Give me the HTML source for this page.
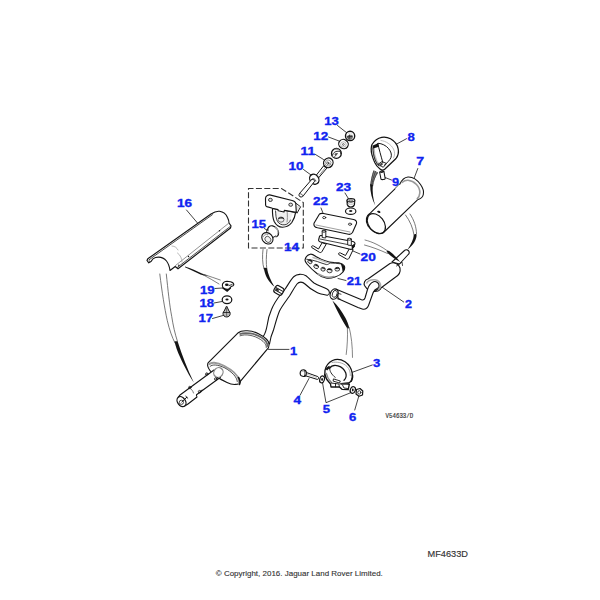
<!DOCTYPE html>
<html><head><meta charset="utf-8">
<style>
html,body{margin:0;padding:0;background:#fff;width:600px;height:600px;overflow:hidden}
svg{position:absolute;left:0;top:0}
.l{font-family:"Liberation Sans",sans-serif;font-weight:bold;font-size:11.6px;fill:#1024f0;stroke:#1024f0;stroke-width:0.35}
.k{fill:none;stroke:#141414;stroke-width:1.1;stroke-linecap:round;stroke-linejoin:round}
.kt{fill:none;stroke:#141414;stroke-width:0.8;stroke-linecap:round;stroke-linejoin:round}
.g{fill:none;stroke:#777;stroke-width:0.7;stroke-linecap:round}
.w{fill:#fff;stroke:#141414;stroke-width:1.1;stroke-linejoin:round;stroke-linecap:round}
.f{fill:#141414;stroke:none}
.d{fill:none;stroke:#333;stroke-width:1.1;stroke-dasharray:4.5 2.5}
.ft{font-family:"Liberation Sans",sans-serif;fill:#333}
</style></head><body>
<svg width="600" height="600" viewBox="0 0 600 600">
<!-- ===== main pipe (part of 1) ===== -->
<g id="pipe1">
 <path class="w" d="M262.5,342 L263.5,336 C265.5,333 266.5,329 267.2,325 C268,319 269.5,314 271.5,309.5 C273.5,304.5 277,299 281,294 C283,291.5 284.5,290 285,289.25 C288,285 291,279 294,276.5 C297,274 302,273.5 306,275.75 C309,278 311,281 314,283 C318,285.5 323,287 327,289 C330,290.5 330.3,294.5 327.5,295.3 C323,294.5 320,294 317,292.5 C312,290 308,287 305,284 C302.5,281.5 299,281.5 297,284 C294,288 292,292 289.5,296 C286,301 282,306 279.5,311 C277,317 275,325 273.5,330 C272.5,333 271.5,335 271,337 L269.5,344 Z"/>
 <!-- hanger on pipe -->
 <g transform="rotate(30 278.8 290.3)">
  <rect class="w" x="274.3" y="286.3" width="9.2" height="8" rx="2.6" style="stroke-width:1.15"/>
  <path class="kt" d="M275.3,289.2 L282.8,289.2 M275.6,291.8 L282.8,291.8" style="stroke-width:0.9"/>
  <path class="f" d="M275.2,289.7 L278.8,289.7 L278.8,291.3 L275.2,291.3 Z" style="fill:#222"/>
 </g>
 </g>
<!-- ===== Muffler 1 ===== -->
<g id="m1">
 <!-- body fill -->
 <path class="w" d="M238.3,332.7 C242,329.5 252,330.5 258,333.5 C264,336.5 269.5,341 269,345 C268.8,347 268,348.5 267.7,348.7 L240.3,381.3 C239.5,385 233,385.5 227,382.5 C218,378.5 209,372 207.7,366 C207.5,364 208,363 208.3,362.7 Z" style="stroke-width:1.15"/>
 <path d="M239.5,334.3 C245,331.8 255,333.5 261.5,337.5 C265.5,340 267.8,343.5 267.5,346.8" style="fill:none;stroke:#666;stroke-width:1.8"/>
 <path class="kt" d="M240,335.8 C245.5,333.5 254.5,335.5 260.5,339.5 C264.5,342 266.5,345 266.3,347.5" style="stroke-width:0.7"/>
 <path d="M208.8,364.8 C210.5,361.8 216.5,362 224,365.8 C232,370 238,375.5 239,380 C239.3,382 238.8,383.3 238.3,384" style="fill:none;stroke:#999;stroke-width:1.8"/>
 <path class="kt" d="M210,366.5 C212,364 218,364.5 225,368 C232,372 237,377 237.3,381.5" style="stroke-width:0.75"/>
 <path class="kt" d="M238.5,377.5 C240,380 240.5,382.5 239.5,384.5" style="stroke-width:1.6"/>
 <!-- tail pipe -->
 <path class="w" d="M214,370 L180,395 C177,397.5 177,403 180,405.5 C183,407 186,405.5 188,404 L197,397 C196.5,396 196.3,395.3 196.5,394.8 L220.5,377.2 Z"/>
 <path class="kt" d="M189.5,388 C191.5,389 193,391 193.5,393" style="stroke:#555;stroke-width:0.8"/>
 <ellipse class="w" cx="181.5" cy="401.6" rx="5.4" ry="3.9" transform="rotate(54 181.5 401.6)" style="stroke-width:1.3"/>
 <circle cx="181.4" cy="402.3" r="2.1" style="fill:none;stroke:#222;stroke-width:0.8"/>
 <path class="kt" d="M181.8,402 L186.8,397.2 M185.8,396.3 L187.8,398.2" style="stroke-width:1"/>
 <ellipse cx="218.4" cy="372.5" rx="4.5" ry="5" transform="rotate(35 218.4 372.5)" style="fill:#fff;stroke:#888;stroke-width:1.3"/>
 <path class="kt" d="M190,387 l-1.5,1.5 M207,373.5 l-1.5,1.5 M200,391.5 l2,-1.5 M215.8,379 l2,-1.5"/>
 <circle class="kt" cx="189.8" cy="387.5" r="1.2"/>
 <circle class="kt" cx="206.8" cy="374" r="1.2"/>
 <circle class="kt" cx="199.6" cy="391.7" r="1.3"/>
 <circle class="kt" cx="215.8" cy="379" r="1.3"/>
 </g>
<!-- ===== intermediate pipe + muffler 2 ===== -->
<g id="m2">
 <!-- muffler body -->
 <path class="w" d="M368.3,278.7 L390,263.5 C394,261.5 399,264 400,268 C400.8,272 398.5,275.5 395,277.5 L381.2,287.8 C380.5,289.5 378.5,291 376.3,291.3 C372,292 366.5,289.5 364.5,285.5 C363.5,283 364.5,280 368.3,278.7 Z"/>
 <path d="M366.5,283.5 C368,280.5 371.5,279.5 375,279.8 C378.5,280.3 381,283 380.5,286.5 C380,288.5 378.5,289.8 376.5,290.2" style="fill:none;stroke:#aaa;stroke-width:1.6"/>
 <!-- intermediate pipe -->
 <path class="w" d="M336.3,289.3 L361.5,299.8 C363,300.3 364.5,299.5 365,298 L367.5,289.5 C368.5,286 370.5,283 373.5,281.8 C376,281 378.5,282.5 379,285 C379.3,286.5 378.5,287.8 377.5,288.3 C375.5,289 374,290.5 373.2,292.5 L368.5,305.5 C367.5,308 365.5,309.5 363,309.2 C361,309 359.5,308 358,307.5 L338.3,298.7 Z"/>
 <path class="f" d="M373.5,292.5 C375,290 377,288.5 378.8,288.2 L377,290.5 Z"/>
 <ellipse class="w" cx="334.2" cy="294.1" rx="3.9" ry="5.3" transform="rotate(20 334.2 294.1)" style="stroke-width:1.2"/>
 <ellipse class="kt" cx="334.8" cy="293.9" rx="2.4" ry="3.6" transform="rotate(20 334.8 293.9)"/>
 <path class="kt" d="M338.5,293.5 L341,294.2 M337.5,298.8 L340,299"/>
 <!-- outlet -->
 <path class="w" d="M392,262 L404.5,250.5 C406,249 408.5,250 409,251.5 C409.5,253 409,254 408.2,254.5 L399.5,264 Z"/>
 <path class="kt" d="M396.5,266 L402,262 L402.5,265.5"/>
</g>
<!-- ===== label leader lines ===== -->
<g class="kt" style="stroke:#222;stroke-width:0.85">
 <path d="M337.5,125.5 L347,133"/>
 <path d="M328.5,137 L339,141"/>
 <path d="M315.5,154.5 L323.5,159.5"/>
 <path d="M303.5,169.5 L311,175"/>
 <path d="M396.7,144 L406.5,138.7"/>
 <path d="M417.8,168.5 L414,178.5"/>
 <path d="M385,177.5 L391.5,180"/>
 <path d="M345,193 L349,199.5"/>
 <path d="M321,208 L323,213"/>
 <path d="M186.5,210 L197.5,223"/>
 <path d="M350.7,250 L360,254"/>
 <path d="M338,278.5 L346,280.5"/>
 <path d="M215,288.5 L222.5,288"/>
 <path d="M214,303 L222,301.5"/>
 <path d="M212.5,318.5 L223,315.5"/>
 <path d="M382.3,287.3 L403.7,302"/>
 <path d="M268.5,349.4 L289,349.4"/>
 <path d="M351.7,372.5 L372.3,365"/>
 <path d="M300,395.3 L309,378.5"/>
 <path d="M322.3,381.5 L326,402.7 L350.5,392.8"/>
 <path d="M354.75,410 L359,395.5"/>
</g>
<!-- ===== muffler 7 ===== -->
<g id="m7">
 <path class="w" d="M370.5,212.9 L399.8,184.2 C401.5,180.5 404.5,177.3 408,177 C412,176.8 417,179.5 420.5,184.5 C423,188 424,191.5 423.3,194.5 C422.8,197 421,198.8 417.5,199.8 L383.3,232.75 C379,235 372,232 368,226 C365,221 366,215.5 370.5,212.9 Z"/>
 <ellipse class="k" cx="376.3" cy="223.6" rx="11.2" ry="7.6" transform="rotate(52 376.3 223.6)" style="stroke-width:1.2"/>
 <path class="g" d="M402,182.5 C404,180.8 406,180.2 408,180.3 C411,180.5 414,182 416.5,184.5 C418.8,187 420,190 419.8,193 C419.6,195.5 418.8,197.3 417.3,198.7" style="stroke:#999;stroke-width:1.6"/>
 <ellipse class="f" cx="378.8" cy="211.8" rx="1.7" ry="1" transform="rotate(20 378.8 211.8)"/>
 <path d="M395.8,189.3 L400,185.2" style="stroke:#fff;stroke-width:1.8"/>
</g>
<!-- ===== clamp 8 + stud 9 ===== -->
<g id="c8">
 <path class="w" d="M372,144.5 C374.5,140.5 377.5,138.2 381.7,137.4 C385,136.8 388,137.5 390.5,138.8 C394.5,141 397.5,145 398.2,149 C398.8,152 398.6,155 396,158.5 L384.7,169.3 C383.5,170.3 381.8,170.3 380.3,169.2 C378,167.5 376,165.5 374.8,162.5 C372.8,158 371,153 371.2,148.7 C371.3,147 371.5,145.5 372,144.5 Z" style="stroke-width:1.25"/>
 <path class="g" d="M373.5,148.5 C373.5,153 374.5,158 376.5,162 C377.5,163.5 379,164.8 380.5,165.5" style="stroke:#bbb;stroke-width:2.5"/>
 <path class="kt" d="M378.3,143.3 C382,143.5 386,145.5 388.5,148.5 C391,151.5 392,154.5 391,157.5 C390,160 387,163 384.2,165.3" style="stroke-width:1"/>
 <path class="g" d="M381,140.5 C386,141 391,144.5 393.5,149 C395,152 395,155.5 393.5,158" style="stroke:#aaa;stroke-width:0.8"/>
 <path class="kt" d="M377.8,143.5 C379,149 381,156 382.9,162.8" style="stroke-width:1"/>
 <path class="kt" d="M372.9,147.8 C373,152 373.8,156 375,159.5 C376,162 377,163.8 378.5,165.5" style="stroke-width:0.9"/>
 <path d="M372.3,145.8 L378,143.2 L378.8,146.8 L373.2,148.5 Z" class="f"/>
 <path class="kt" d="M378.5,164 L382,161.5 L386.5,163.5 L383.5,167 Z" style="stroke-width:0.9"/>
 <path class="f" d="M379.5,164 L382,162.5 L383,164.5 L381,165.5 Z" style="fill:#444"/>
 <path class="w" d="M379.6,172 L383.9,171.4 L385.2,178.6 C385,179.6 381.6,180 381,179.1 Z" style="stroke-width:1.05"/>
 <ellipse class="kt" cx="381.9" cy="171.6" rx="1.7" ry="0.9" transform="rotate(-10 381.9 171.6)"/>
</g>
<!-- ===== bolt 10, washers 11/12, grommet, nut 13 ===== -->
<g id="b10">
 <!-- upper shaft -->
 <path class="w" d="M316.3,175.2 L323.5,166 L326.8,168.2 L318.6,177.8 Z" style="stroke-width:1"/>
 <path class="kt" d="M319.5,175 L325.5,167.5" style="stroke:#777"/>
 <!-- collar -->
 <ellipse class="w" cx="314.3" cy="179.2" rx="5.3" ry="4.3" transform="rotate(55 314.3 179.2)" style="stroke-width:1.35"/>
 <!-- lower shaft -->
 <path class="w" d="M310.5,180.7 C311.5,178.8 313.8,178.8 314.7,181.2 L303.3,195.8 C302.8,196.5 302.2,197 301.2,197 C299.2,197.2 298.3,195.2 299.3,193.8 Z" style="stroke-width:1"/>
 <path class="kt" d="M311.3,179.8 C312.5,178 315.5,178.5 315.8,181" style="stroke-width:0.9"/>
 <path class="kt" d="M299.8,193.5 C300.8,193.6 302.8,195 303.2,195.8"/>
</g>
<g id="w11">
 <ellipse class="w" cx="328.3" cy="162.8" rx="4.6" ry="4.9" transform="rotate(40 328.3 162.8)" style="stroke-width:1.3"/>
 <ellipse class="g" cx="328" cy="163" rx="2.8" ry="3.1" transform="rotate(40 328 163)"/>
 <ellipse class="kt" cx="327.8" cy="163.2" rx="1.1" ry="1.2" style="stroke-width:0.7"/>
</g>
<g id="gr">
 <circle class="w" cx="336.4" cy="153.4" r="4.9" style="stroke-width:1.3"/>
 <path class="kt" d="M332.3,155.5 C333,152.5 336,150.5 339.5,151.5 C340.5,152 341,152.8 340.8,153.8" style="stroke-width:0.9"/>
 <path d="M332.5,156 C333.2,154 335.5,152.5 338,153 C337,155.5 335,157.3 332.8,157.3 Z" style="fill:#555"/>
 <ellipse cx="333.9" cy="155.6" rx="1.5" ry="0.9" transform="rotate(-40 333.9 155.6)" style="fill:#fff"/>
 <path d="M334.5,149.5 C336.5,148.5 339,149.3 339.5,150.8" style="fill:none;stroke:#999;stroke-width:1"/>
</g>
<g id="w12">
 <ellipse class="w" cx="343.5" cy="144.1" rx="4.9" ry="4.5" transform="rotate(35 343.5 144.1)" style="stroke-width:1.25"/>
 <ellipse cx="343.4" cy="144.4" rx="2.8" ry="2.6" style="fill:none;stroke:#999;stroke-width:0.7"/>
 <circle cx="343.4" cy="144.5" r="0.9" style="fill:none;stroke:#333;stroke-width:0.7"/>
</g>
<g id="n13">
 <ellipse class="w" cx="350.1" cy="135.9" rx="4.6" ry="4.6" style="stroke-width:1.4"/>
 <path d="M346.5,137 C347.5,135 350,134.3 352.5,135.2 C353.3,136.5 353,138.5 351.5,139.5 C349.5,140.2 347.2,139.2 346.5,137 Z" style="fill:#777"/>
 <path class="kt" d="M347.5,136.8 L352,136.5 M349.5,135 L349,139.5" style="stroke:#222;stroke-width:0.8"/>
 <path d="M348,133.5 C349.5,132.5 351.5,132.8 352.5,134" style="fill:none;stroke:#ccc;stroke-width:0.8"/>
</g>
<!-- ===== nut 23 + washer ===== -->
<g id="n23">
 <ellipse class="w" cx="350.7" cy="211.2" rx="5.2" ry="3.2" style="stroke-width:1.15"/>
 <ellipse cx="350.7" cy="211" rx="1.7" ry="1" style="fill:#222"/>
 <path class="w" d="M347,200.5 L347.2,204.5 C347.8,206.3 349.3,207 350.8,207 C352.5,207 354,206.2 354.5,204.5 L354.8,200.5 Z" style="stroke-width:1.1"/>
 <ellipse class="w" cx="350.9" cy="200.3" rx="3.9" ry="1.7" style="stroke-width:1.05"/>
 <ellipse cx="350.8" cy="201" rx="2.3" ry="0.9" style="fill:none;stroke:#444;stroke-width:0.8"/>
 <path d="M347.5,203.5 C349,204.5 352.5,204.5 354,203.5" style="fill:none;stroke:#999;stroke-width:0.7"/>
 <path d="M347.3,201.5 L347.8,203.5" style="stroke:#111;stroke-width:1"/>
</g>
<!-- ===== dashed box 14 ===== -->
<path class="d" d="M248.5,188.5 L281.5,188.5 L303.3,202.5 L303.3,248 L248.5,248 Z" style="stroke-dasharray:6 2.4;stroke-dashoffset:1"/>
<!-- ===== bracket 14 ===== -->
<g id="br14">
 <path class="w" d="M272.5,208.5 C272.3,213 272.8,218 274.2,221.5 C276,225 279,227.2 282.5,227.2 C286,227.2 289.5,225.5 291.8,222.5 C293.8,219.5 295.2,216 295.6,212.4 Z" style="stroke-width:1.15"/>
 <path d="M276.5,212 C276.5,216 277.5,220.5 280,223 C283,225.5 287,224.5 289.5,221 C291,218.5 292,215.5 292.5,213" style="fill:#f0f0f0;stroke:none"/>
 <path class="kt" d="M275.6,211 C275.8,215 276,219 277.5,221.5 C279,224 282,225.2 285,224.8 C287.5,224.3 289.5,222.5 290.5,220" style="stroke-width:0.85"/>
 <path class="kt" d="M287.2,212.4 C287.5,216 287.5,219.5 287,222" style="stroke:#777;stroke-width:0.8"/>
 <path class="w" d="M265.5,198.4 C265.5,196.5 267.5,194.8 269.7,194.9 L292.1,200.5 C294,201 295.5,202 295.8,203.5 L296.3,212.4 L284.4,210.3 L284,212 L278.2,210.8 L278,209.6 L272.5,208.2 L266.8,206.6 C266,206.3 265.6,205.8 265.6,205 Z" style="stroke-width:1.15"/>
 <path class="kt" d="M296.3,203.5 L300.6,206.8 L297,213.2 L296.3,212.4" style="stroke-width:0.95"/>
 <path d="M297.2,205.5 L299.5,207 L297.3,211" style="fill:#ddd;stroke:none"/>
 <ellipse cx="270.4" cy="199.9" rx="1.9" ry="1.6" style="fill:#ddd;stroke:#222;stroke-width:0.9"/>
 <ellipse cx="290.7" cy="204.7" rx="1.9" ry="1.6" style="fill:#ddd;stroke:#222;stroke-width:0.9"/>
 <ellipse cx="281" cy="219.6" rx="3" ry="2.6" style="fill:#eee;stroke:#333;stroke-width:0.7"/>
 <path class="f" d="M278,219.5 C278.5,216.8 283.5,216.5 284.2,219.3 C283,218.2 279.5,218.2 278,219.5 Z"/>
</g>
<!-- ===== bushing 15 ===== -->
<g id="bu15">
 <ellipse class="w" cx="273.2" cy="231.4" rx="6.3" ry="4.6" transform="rotate(48 273.2 231.4)" style="stroke-width:1.15"/>
 <path class="g" d="M275,227.5 C277.5,229 278.5,232 277.5,234.5" style="stroke:#aaa;stroke-width:1.2"/>
 <path d="M267.5,230.5 L276.5,236.5 L272,242 L263,235.5 Z" style="fill:#fff;stroke:none"/>
 <path class="kt" d="M267.3,229 C266.8,230.5 266.5,232 266.5,233 M275.8,236 C274.5,236.8 273.5,237.2 272.8,237.5" style="stroke-width:1"/>
 <ellipse class="w" cx="267.4" cy="238.3" rx="6.2" ry="5.1" transform="rotate(48 267.4 238.3)" style="stroke-width:1.15"/>
 <ellipse cx="267.9" cy="239.4" rx="3.3" ry="2.7" transform="rotate(48 267.9 239.4)" style="fill:#f2f2f2;stroke:#444;stroke-width:0.8"/>
 <path class="g" d="M263,237 C263.5,235 266,234 268,234.5" style="stroke:#999;stroke-width:1"/>
 <path class="kt" d="M264.3,228.5 L266.8,230"/>
</g>
<!-- ===== plate 22 ===== -->
<g id="p22">
 <path class="w" d="M319.5,214 C320.5,213.3 322,213.2 323.5,213.5 L353.5,219.5 C355.8,220 357,221.5 356.5,223.5 L352.5,232.5 C351.5,234 350,234.6 348.5,234.3 L317.5,227.8 C315,227.2 313.5,225.5 314,223.3 Z"/>
 <path class="g" d="M316,225 L350,232"/>
 <ellipse class="kt" cx="324.2" cy="217.6" rx="1.6" ry="1.1"/>
 <ellipse class="kt" cx="350" cy="224.2" rx="1.6" ry="1.1"/>
</g>
<!-- ===== part 20 ===== -->
<g id="p20">
 <!-- legs -->
 <path class="w" d="M322,243 L318.5,249 L313.5,246 C312,245.3 311,246.5 311.8,247.6 L319.5,252.3 C320.5,252.8 321.5,252.5 322,251.5 L326,244.5 Z" style="stroke-width:1"/>
 <path class="w" d="M349.5,248.5 L345.5,255.5 L340.5,253 C339,252.3 338,253.5 338.8,254.6 L346.5,259 C347.5,259.5 348.5,259.3 349,258.3 L353,250 Z" style="stroke-width:1"/>
 <!-- bar -->
 <path class="w" d="M321,235.5 L353,241.5 C355,242 355.5,243.5 354.5,245 L352.5,248.5 C352,249.3 351,249.5 350,249.3 L320.5,242 C319,241.6 318.3,240.5 318.7,239.3 L319.5,236.5 C319.8,235.8 320.3,235.4 321,235.5 Z"/>
 <path class="kt" d="M320,239 L352.5,245.5"/>
 <!-- studs -->
 <path class="w" d="M322.2,231 L322.2,237.5 L325.8,238 L325.8,231.5 Z" style="stroke-width:0.9"/>
 <ellipse class="w" cx="324" cy="231.2" rx="1.8" ry="1" style="stroke-width:0.9"/>
 <path class="w" d="M347.7,239 L347.7,245 L351.3,245.5 L351.3,239.5 Z" style="stroke-width:0.9"/>
 <ellipse class="w" cx="349.5" cy="239.2" rx="1.8" ry="1" style="stroke-width:0.9"/>
 <path class="f" d="M351.5,246 L354.5,243.5 L355,246.5 L352,249.5 Z"/>
</g>
<!-- ===== part 21 ===== -->
<g id="p21">
 <path class="w" d="M305,260 C305.5,257.5 307.5,254.8 310.4,254.2 C313,254 315,256 317.3,257.3 C320,259 322.5,260 325,260.7 C328,261.8 331,262.3 334,262.5 L338.8,262.7 C341,263.2 343,264 344,265.5 C345,267 344.8,269.5 343,272 C341,274.5 338,276.2 335,277 C332,278 329,278.6 326,278 C323,277.5 320,276 317,273.5 C313,270.5 309.5,267 307,264 C305.8,262.5 305,261.5 305,260 Z" style="stroke-width:1.15"/>
 <path class="kt" d="M306.6,259.2 C310,259.5 314,260.5 317.3,261.5 C320.5,262.5 323.5,264 326.5,264.6 C328,264.8 329,263.5 330.4,263 C333.5,263 337,263.3 340.3,263.8" style="stroke-width:0.85"/>
 <path class="g" d="M313,257.5 C318,259 323,261 327,262.5" style="stroke:#bbb;stroke-width:1.5"/>
 <path class="g" d="M318,274 C323,277 329,277.8 334,276.5" style="stroke:#999;stroke-width:1.5"/>
 <ellipse cx="310" cy="261.6" rx="2.3" ry="1.9" transform="rotate(30 310 261.6)" style="fill:#e8e8e8;stroke:#222;stroke-width:0.8"/>
 <path class="f" d="M307.9,261.40000000000003 C308.2,259.40000000000003 311.8,259.40000000000003 312.1,261.40000000000003 C311.3,260.95000000000005 308.7,260.95000000000005 307.9,261.40000000000003 Z" transform="rotate(30 310 261.6)"/>
 <ellipse cx="316.2" cy="266.5" rx="2.5" ry="2.0" transform="rotate(25 316.2 266.5)" style="fill:#e8e8e8;stroke:#222;stroke-width:0.8"/>
 <path class="f" d="M313.9,266.3 C314.2,264.2 318.2,264.2 318.5,266.3 C317.7,265.8 314.7,265.8 313.9,266.3 Z" transform="rotate(25 316.2 266.5)"/>
 <ellipse cx="323.1" cy="269.2" rx="2.2" ry="1.9" transform="rotate(15 323.1 269.2)" style="fill:#e8e8e8;stroke:#222;stroke-width:0.8"/>
 <path class="f" d="M321.1,269.0 C321.40000000000003,267.0 324.8,267.0 325.1,269.0 C324.3,268.55 321.90000000000003,268.55 321.1,269.0 Z" transform="rotate(15 323.1 269.2)"/>
 <ellipse cx="329.6" cy="270.7" rx="2.6" ry="2.1" transform="rotate(5 329.6 270.7)" style="fill:#e8e8e8;stroke:#222;stroke-width:0.8"/>
 <path class="f" d="M327.2,270.5 C327.5,268.29999999999995 331.70000000000005,268.29999999999995 332.00000000000006,270.5 C331.20000000000005,269.95 328.0,269.95 327.2,270.5 Z" transform="rotate(5 329.6 270.7)"/>
 <ellipse cx="337.3" cy="269.2" rx="2.4" ry="1.9" transform="rotate(-5 337.3 269.2)" style="fill:#e8e8e8;stroke:#222;stroke-width:0.8"/>
 <path class="f" d="M335.1,269.0 C335.40000000000003,267.0 339.2,267.0 339.5,269.0 C338.7,268.55 335.90000000000003,268.55 335.1,269.0 Z" transform="rotate(-5 337.3 269.2)"/>
 <path class="f" d="M340.5,263.5 C342.5,264 344.3,265.5 344.6,267.5 C344.8,269 344,270.8 342.5,272 C342.5,269.5 342,266.5 340.5,263.5 Z"/>
</g>
<!-- ===== heat shield 16 ===== -->
<g id="hs16">
 <path class="w" d="M147.8,258.8 L211,214 C214,212 217,211 219.5,211.3 C223,211.8 226,214 227.5,217.5 C228.5,219.5 229,221.5 229,223 L231,225.8 L230.5,228 L178,268.8 L175.2,266.5 L170,270.5 C169.5,267 168.5,263.5 166.5,261 C164,258 159.5,256.5 155.5,257.5 C153.5,258 152,259.5 151,261.5 L148.8,262.8 L147,260.5 Z" style="stroke-width:1.15"/>
 <path class="kt" d="M148.9,259.9 L212.4,214.7" style="stroke:#333;stroke-width:0.9"/>
 <path class="kt" d="M229,223 L175.5,265.5" style="stroke:#888;stroke-width:0.9"/>
 <path class="kt" d="M229.8,226.8 L177.5,267.3" style="stroke:#222;stroke-width:0.8"/>
 <path class="g" d="M172,246 C175,246 177,248 178,250 M177.5,253 C180.5,255 182,259 182,262" style="stroke:#999"/>
 <circle class="f" cx="219.5" cy="230.8" r="0.7"/>
 <circle class="f" cx="188.5" cy="256.5" r="0.7"/>
 <circle class="f" cx="178.8" cy="265.3" r="0.7"/>
 <circle class="f" cx="149.5" cy="261" r="0.6"/>
</g>
<!-- ===== clip 19, washer 18, screw 17 ===== -->
<g id="s17">
 <path class="f" d="M222.2,284.5 L222.4,288.5 L227.2,292 L231,288.5 L230.8,286.5 L228,289 Z"/>
 <path class="w" d="M222.5,284 C223.5,282.2 225,281.3 227,281.3 L230.5,281.8 C232.3,282.2 233.8,283.5 233.8,284.8 C233.5,285.8 232.5,286.3 231.3,286.5 C230.5,287 229.8,288.2 228.3,289.3 C226.8,289.5 225,289 223.5,288 C222.3,287 222,285.5 222.5,284 Z" style="stroke-width:1.1"/>
 <ellipse class="f" cx="226.8" cy="284.7" rx="1.8" ry="1.2"/>
 <path class="kt" d="M229,285.5 L232,284.6" style="stroke-width:0.9"/>
 <ellipse class="w" cx="227" cy="299.7" rx="4.8" ry="3.8" style="stroke-width:1.25"/>
 <ellipse class="f" cx="227" cy="299.5" rx="1.6" ry="0.9"/>
 <path d="M226.6,306 L224.2,311 C222.8,312 222.5,314.5 224,316 C225.5,317.3 228,317.3 229.3,316 C230.7,314.5 230.3,312 229,311 Z" style="fill:#bbb;stroke:#141414;stroke-width:1"/>
 <path class="kt" d="M226.6,306.5 L226.6,316" style="stroke:#555;stroke-width:0.8"/>
 <path class="kt" d="M223.5,312.5 L229.7,312.5" style="stroke-width:0.8"/>
</g>
<!-- ===== clamp 3 ===== -->
<g id="c3">
 <path class="w" style="stroke-width:1.35" d="M325,370.3 C325.8,366.5 328.5,362.5 332.5,360.5 C336,359 341,359.3 345,361.8 C349,364.5 351.5,369 352.2,373 L352.5,377 L351.3,381 L348,383.7 L349.3,384.3 L348.2,389.7 L342,389.3 L339.5,387 L331,387 L330.5,384 C328,381.5 325.8,378.5 324.8,375 Z" style="stroke-width:1.1"/>
 <path class="kt" d="M329.7,368.3 C331,366 334.5,365 338,365.8 C341.5,366.8 344.5,369.5 345.8,373 C346.5,375.5 346,378.5 344,380.3" style="stroke-width:1.25"/>
 <path class="kt" d="M329.7,368.3 C329.5,371 331.5,374.5 335.3,377.5" style="stroke-width:0.9"/>
 <path class="g" d="M332,362.5 C337,361.5 343,362.5 347,366.5 C349.5,369 350.5,372.5 350.3,375.5" style="stroke:#aaa;stroke-width:1"/>
 <path class="g" d="M326.5,373.5 C327,377 329,380 331.5,382.5" style="stroke:#888;stroke-width:1.3"/>
 <path class="f" d="M325.6,369.2 C326.5,367.5 328,366.2 329.5,365.8 L330,368 C329,368.5 328,369.5 327.2,370.5 Z"/>
 <path class="kt" d="M324.8,374.5 L325.5,376.5" style="stroke-width:1.5"/>
 <path class="w" d="M333.8,379 L340.3,381 L339.5,383 L333.5,381.2 Z" style="stroke-width:0.9"/>
 <path class="kt" d="M331,383 L339,384 L339.3,387 M335.5,383.5 L335.5,386.8" style="stroke-width:0.9"/>
 <path class="kt" d="M340,383.7 L349.3,384.3 M342.5,385 L344,388 L347.5,388.5" style="stroke-width:0.9"/>
 <path class="f" d="M341,383 L349,382 L348.5,384.3 L340.5,384.8 Z" style="fill:#333"/>
 <path class="kt" d="M351.3,381 C352.5,379 352.8,377 352.5,375" style="stroke-width:1.5"/>
</g>
<!-- ===== bolt 4, washers 5, nut 6 ===== -->
<g id="b4">
 <path class="w" d="M305.5,372.2 L317.8,376.6 C319.2,377.2 319,379.5 317.2,379.4 L304.9,375.6 Z" style="stroke-width:1"/>
 <path class="kt" d="M307,374.2 L316.5,377.6" style="stroke:#bbb;stroke-width:0.8"/>
 <path class="w" d="M301.2,370.6 C302.5,369.6 304.5,369.7 305.7,370.8 C306.6,371.8 306.5,374.3 305.8,375.5 C304.8,376.6 302.8,376.6 301.3,375.8 C300,375 299.6,372 301.2,370.6 Z" style="stroke-width:1.2"/>
 <path d="M301.8,372 C302.5,371 304,371 304.8,371.8" style="fill:none;stroke:#999;stroke-width:0.8"/>
 <path class="kt" d="M304.3,370.2 C305.3,371.5 305.3,374.5 304.3,376.2" style="stroke-width:0.8"/>
 <ellipse class="w" cx="322.1" cy="379.4" rx="2.3" ry="3.5" transform="rotate(18 322.1 379.4)" style="stroke-width:1.2"/>
 <ellipse class="f" cx="322.1" cy="379.5" rx="0.9" ry="1.4"/>
 <ellipse class="w" cx="352.8" cy="390" rx="2.5" ry="3.4" transform="rotate(20 352.8 390)" style="stroke-width:1.2"/>
 <ellipse class="f" cx="352.8" cy="390" rx="0.9" ry="1.4"/>
 <path class="w" d="M356.5,389.5 L360,388.5 L362.8,391 L362.5,395 L359,396.3 L356,394 Z" style="stroke-width:1.2"/>
 <ellipse class="kt" cx="359.3" cy="392.4" rx="1.6" ry="1.7"/>
</g>
<!-- ===== hanger wires ===== -->
<g id="wires">
 <!-- W2 under heat shield -->
 <path class="g" style="stroke:#555;stroke-width:0.8" d="M159.8,274 C162,292 164.5,308 167.3,320.7 C169.5,330 172,337 175,343"/>
 <path class="g" style="stroke:#555;stroke-width:0.8" d="M166.3,274 C168,290 169.5,305 171.7,316.3 C173,325 175,334 177.5,341.5"/>
 <path class="f" d="M174.5,341.5 C177,341 177.8,341.5 178,342.5 C182,355 187,368 193.8,382.5 C190,377 184,366 180,357 C177.5,351.5 175.5,346 174.5,341.5 Z"/>
 <!-- W3 heat shield to clip 19 -->
 <path class="f" d="M185,266.5 C191,268.5 197,271 202,273.5 C204.5,274.5 206.5,275.3 208,276 C205,275.8 202.5,275.3 200.5,274.6 C195,272 190,269.5 185,267.2 Z"/>
 <path class="g" style="stroke:#555;stroke-width:0.75" d="M204,274.5 C209.5,276.5 215,278 220.3,280"/>
 <path class="g" style="stroke:#555;stroke-width:0.75" d="M203.5,275 C208.5,277.5 214,281 219,284"/>
 <!-- W1 under dashed box -->
 <path class="g" style="stroke:#555;stroke-width:0.8" d="M263,249.5 C262.2,256 262.3,263 264,269"/>
 <path class="g" style="stroke:#555;stroke-width:0.8" d="M267,249.5 C266.2,256 266,263 266.8,269"/>
 <path class="f" d="M263.8,268 C264.8,267.5 266,267.5 267,268.3 C268,274 270.5,280.5 274.5,286.8 C271.5,284.5 269,281.5 267,278 C265.5,275 264.3,271.5 263.8,268 Z"/>
 <!-- W4 strap by clamp 8 to muffler 7 -->
 <path d="M373.5,170.5 C375.5,171 377.5,172 378.2,173 C375.5,176.5 373.5,181 372.8,186 L370.3,185.5 C370.8,180 372,174.5 373.5,170.5 Z" style="fill:#888"/>
 <path class="g" d="M373.8,170.8 C372,176 371,181 370.6,186 M375.5,171.5 C373.5,176.5 372.2,181 371.8,186 M377.3,172.5 C375,176.5 373.3,181 372.7,186" style="stroke:#222;stroke-width:0.65"/>
 <path class="f" d="M370.2,184 L372.8,185 C372.3,192 373,199 375.3,205.5 C372,199.5 370,192 370.2,184 Z"/>
 <!-- W5 muffler 7 to muffler 2 outlet -->
 <path class="g" style="stroke:#555;stroke-width:0.8" d="M405.5,215 C410,221 413,228 414,235 M410,214 C414,220 416.5,227 416.5,234"/>
 <path class="f" d="M413.8,235 C414.5,233.5 416.5,233.5 416.6,235 C416.5,240 413,245.5 407.5,249.5 C411,244.5 413.5,239.5 413.8,235 Z"/>
 <!-- W6 from 20 to muffler 2 -->
 <path class="g" style="stroke:#555;stroke-width:0.75" d="M365,240 C373,242 381,246 389,252 M364.5,245 C372,247 380,250 387.5,253.5"/>
 <path class="f" d="M386.5,251 C388,250.5 389.5,251.2 390.5,252 C393.5,254.5 397,257.5 400.2,262 C397.5,260.5 394,258.5 391,256 C389,254.5 387.5,253 386.5,251 Z"/>
 <!-- W7 below pipe ring to clamp 3 -->
 <path class="f" d="M332.4,300.6 C337.5,305.5 342,311.5 345.5,318 C347,321 348.5,324.5 349.3,328 L347.5,328.8 C345.5,325.5 343,321.5 340.8,317.5 C337.5,311.5 334.8,306 332.4,300.6 Z"/>
 <path class="g" style="stroke:#666;stroke-width:0.8" d="M347.4,328 C347.8,336 347.3,346 346.2,354.5 M349.2,327.5 C351.3,336 352.5,346 352.5,357.4"/>
 </g>

<text class="l" x="324.2" y="125.0" textLength="14.6" lengthAdjust="spacingAndGlyphs">13</text>
<text class="l" x="313.3" y="139.6" textLength="15.0" lengthAdjust="spacingAndGlyphs">12</text>
<text class="l" x="300.5" y="155.0" textLength="14.6" lengthAdjust="spacingAndGlyphs">11</text>
<text class="l" x="288.5" y="170.0" textLength="15.1" lengthAdjust="spacingAndGlyphs">10</text>
<text class="l" x="407.5" y="140.7" textLength="7.3" lengthAdjust="spacingAndGlyphs">8</text>
<text class="l" x="416.2" y="164.7" textLength="7.9" lengthAdjust="spacingAndGlyphs">7</text>
<text class="l" x="392.0" y="186.0" textLength="7.1" lengthAdjust="spacingAndGlyphs">9</text>
<text class="l" x="336.0" y="190.5" textLength="15.1" lengthAdjust="spacingAndGlyphs">23</text>
<text class="l" x="313.0" y="205.0" textLength="15.1" lengthAdjust="spacingAndGlyphs">22</text>
<text class="l" x="177.0" y="207.0" textLength="15.1" lengthAdjust="spacingAndGlyphs">16</text>
<text class="l" x="251.5" y="227.5" textLength="14.6" lengthAdjust="spacingAndGlyphs">15</text>
<text class="l" x="284.0" y="250.5" textLength="15.1" lengthAdjust="spacingAndGlyphs">14</text>
<text class="l" x="360.5" y="260.7" textLength="15.3" lengthAdjust="spacingAndGlyphs">20</text>
<text class="l" x="346.8" y="284.7" textLength="14.6" lengthAdjust="spacingAndGlyphs">21</text>
<text class="l" x="200.0" y="293.5" textLength="14.6" lengthAdjust="spacingAndGlyphs">19</text>
<text class="l" x="199.5" y="306.5" textLength="14.6" lengthAdjust="spacingAndGlyphs">18</text>
<text class="l" x="198.5" y="321.5" textLength="14.6" lengthAdjust="spacingAndGlyphs">17</text>
<text class="l" x="405.1" y="308.3" textLength="7.0" lengthAdjust="spacingAndGlyphs">2</text>
<text class="l" x="289.9" y="354.7" textLength="7.2" lengthAdjust="spacingAndGlyphs">1</text>
<text class="l" x="373.0" y="366.8" textLength="7.3" lengthAdjust="spacingAndGlyphs">3</text>
<text class="l" x="293.5" y="404.0" textLength="7.6" lengthAdjust="spacingAndGlyphs">4</text>
<text class="l" x="322.8" y="413.3" textLength="7.3" lengthAdjust="spacingAndGlyphs">5</text>
<text class="l" x="349.0" y="421.2" textLength="7.3" lengthAdjust="spacingAndGlyphs">6</text>
<text x="385.5" y="418.3" style="font-family:'Liberation Mono',monospace;font-size:7px;fill:#333;stroke:#444;stroke-width:0.2" textLength="27.8" lengthAdjust="spacingAndGlyphs">V54633/D</text>
<text class="ft" x="427.5" y="556.7" style="font-size:9.6px;stroke:#333;stroke-width:0.15" textLength="40.5" lengthAdjust="spacingAndGlyphs">MF4633D</text>
<text class="ft" x="215.8" y="576.2" style="font-size:8px;stroke:#333;stroke-width:0.12" textLength="167" lengthAdjust="spacingAndGlyphs">© Copyright, 2016. Jaguar Land Rover Limited.</text>
</svg>
</body></html>
